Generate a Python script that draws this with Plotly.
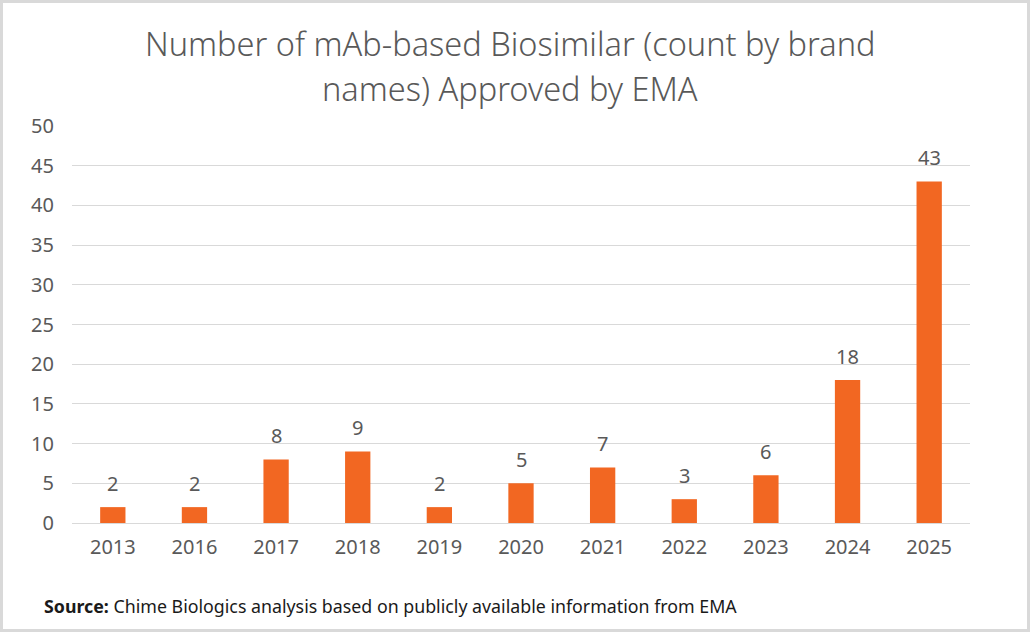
import plotly.graph_objects as go

years = ["2013", "2016", "2017", "2018", "2019", "2020", "2021", "2022", "2023", "2024", "2025"]
counts = [2, 2, 8, 9, 2, 5, 7, 3, 6, 18, 43]
y_ticks = [0, 5, 10, 15, 20, 25, 30, 35, 40, 45, 50]
title_lines = ["Number of mAb-based Biosimilar (count by brand", "names) Approved by EMA"]

W, H = 1030, 632
L, R, T, B = 72, 60, 126, 109
pw, ph = W - L - R, H - T - B
GREY = "#595959"
FONT = "Noto Sans"

def px_x(p):
    return (p - L) / pw

def px_y(p):
    return (H - B - p) / ph

fig = go.Figure(go.Bar(
    x=years, y=counts,
    marker=dict(color="#F26722", line=dict(width=0)),
    hoverinfo="x+y",
))

for i, c in enumerate(counts):
    fig.add_annotation(
        x=i, y=c, xref="x", yref="y", text=str(c), showarrow=False,
        yanchor="middle", yshift=24,
        font=dict(size=20, color=GREY, family=FONT),
    )

for i, line in enumerate(title_lines):
    fig.add_annotation(
        text=line, xref="paper", yref="paper", x=px_x(510), y=px_y(44 + 45 * i),
        xanchor="center", yanchor="middle", showarrow=False,
        font=dict(size=32.5, color=GREY, family=FONT, weight=300),
    )

fig.update_layout(
    width=W, height=H,
    margin=dict(l=L, r=R, t=T, b=B),
    paper_bgcolor="white", plot_bgcolor="white",
    bargap=0.69,
    showlegend=False,
    xaxis=dict(
        type="category", categoryorder="array", categoryarray=years,
        range=[-0.5, len(years) - 0.5], autorange=False,
        showgrid=False, showline=True, linecolor="#D9D9D9", linewidth=1,
        ticks="", tickfont=dict(size=20, color=GREY, family=FONT),
        ticklabelstandoff=6,
    ),
    yaxis=dict(
        range=[0, 50], tickvals=y_ticks, showgrid=True, gridcolor="#D9D9D9",
        gridwidth=1, zeroline=False, showline=False, ticks="",
        tickfont=dict(size=20, color=GREY, family=FONT),
        ticklabelstandoff=17,
    ),
    font=dict(family=FONT),
)

fig.add_annotation(
    text="<b>Source:</b> Chime Biologics analysis based on publicly available information from EMA",
    xref="paper", yref="paper", x=px_x(42), y=px_y(606), xanchor="left", yanchor="middle",
    showarrow=False, font=dict(size=17.8, color="#1a1a1a", family=FONT),
)

fig.add_shape(
    type="rect", xref="paper", yref="paper",
    x0=px_x(1.5), x1=px_x(1028.5), y0=px_y(630.5), y1=px_y(1.5),
    line=dict(color="#D9D9D9", width=3), fillcolor="rgba(0,0,0,0)", layer="below",
)

fig.write_html("out.html")
